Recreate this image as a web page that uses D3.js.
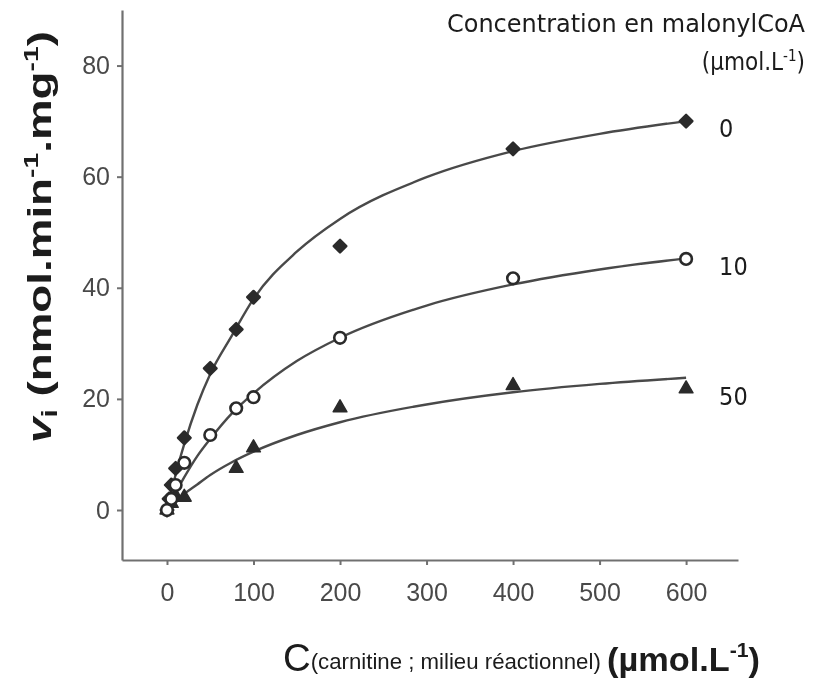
<!DOCTYPE html>
<html>
<head>
<meta charset="utf-8">
<script src="https://cdn.jsdelivr.net/npm/d3@7"></script>
<style>
  body { margin: 0; background: #fff; }
  svg { display: block; }
</style>
</head>
<body>
<svg id="chart" width="816" height="679"></svg>
<script>
// malonylCoA concentrations (umol/L) for the three series
var seriesNames = ['0', '10', '50'];

// measured points: carnitine concentration (x) and vi (y)
var conc0 = [0, 2.5, 5, 10, 20, 50, 80, 100, 200, 400, 600];
var vi0 = [0, 2, 4.5, 7.5, 13, 25.5, 32.5, 38.3, 47.5, 65, 70];

var conc10 = [0, 5, 10, 20, 50, 80, 100, 200, 400, 600];
var vi10 = [0, 2, 4.5, 8.5, 13.5, 18.3, 20.3, 31, 41.7, 45.2];

var conc50 = [0, 5, 10, 20, 80, 100, 200, 400, 600];
var vi50 = [0, 1.2, 2.5, 2.3, 7.5, 11.2, 18.4, 22.4, 21.8];

// fitted curves
var curveConc = [0, 5, 10, 20, 35, 50, 75, 100, 150, 200, 300, 400, 500, 600];
var curveVi0 = [0, 3.3, 6.4, 11.9, 18.9, 24.5, 31.4, 38, 46.5, 52.4, 59.9, 64.6, 67.7, 70];
var curveVi10 = [0, 1.6, 3.1, 5.9, 9.7, 12.8, 17.4, 21, 26.8, 31, 36.8, 40.6, 43.3, 45.3];
var curveVi50 = [0, 0.8, 1.5, 2.9, 4.6, 6.3, 8.6, 10.5, 13.5, 15.8, 19, 21.2, 22.7, 23.8];

var xTicks = [0, 100, 200, 300, 400, 500, 600];
var yTicks = [0, 20, 40, 60, 80];

var svg = d3.select('#chart');
var ink = '#2b2b2b';

var defs = svg.append('defs');
defs.append('filter').attr('id', 'scan')
  .append('feGaussianBlur').attr('stdDeviation', 0.55);

var x = d3.scaleLinear().domain([-52, 660]).range([122, 738]);
var y = d3.scaleLinear().domain([-9, 90]).range([560, 10]);

var g = svg.append('g').attr('filter', 'url(#scan)');

// axes
var yAxis = g.append('g')
  .attr('transform', 'translate(' + x(-52) + ',0)')
  .call(d3.axisLeft(y).tickValues(yTicks).tickSize(5).tickSizeOuter(0).tickPadding(7));

var xAxis = g.append('g')
  .attr('transform', 'translate(0,' + y(-9) + ')')
  .call(d3.axisBottom(x).tickValues(xTicks).tickSize(5).tickSizeOuter(0).tickPadding(18));

[yAxis, xAxis].forEach(function(a) {
  a.select('.domain').attr('stroke', '#707070').attr('stroke-width', 2.2);
  a.selectAll('.tick line').attr('stroke', '#707070').attr('stroke-width', 2);
  a.selectAll('.tick text')
    .attr('fill', '#4a4a4a')
    .attr('font-family', 'Liberation Sans, Arial, sans-serif')
    .attr('font-size', 25);
});

// fitted curves
var line = d3.line()
  .x(function(d) { return x(d[0]); })
  .y(function(d) { return y(d[1]); })
  .curve(d3.curveMonotoneX);

var curves = [curveVi0, curveVi10, curveVi50].map(function(vals) {
  return curveConc.map(function(c, i) { return [c, vals[i]]; });
});

g.append('g').attr('class', 'curves')
  .selectAll('path')
  .data(curves)
  .enter().append('path')
  .attr('d', line)
  .attr('fill', 'none')
  .attr('stroke', '#4a4a4a')
  .attr('stroke-width', 2.4);

// measured points
function pairs(cs, vs) {
  return cs.map(function(c, i) { return [c, vs[i]]; });
}

var pts = g.append('g').attr('class', 'points');

pts.selectAll('path.tri')
  .data(pairs(conc50, vi50))
  .enter().append('path')
  .attr('class', 'tri')
  .attr('d', d3.symbol().type(d3.symbolTriangle).size(82))
  .attr('transform', function(d) { return 'translate(' + x(d[0]) + ',' + y(d[1]) + ')'; })
  .attr('fill', ink)
  .attr('stroke', ink)
  .attr('stroke-width', 1.5)
  .attr('stroke-linejoin', 'round');

pts.selectAll('path.dia')
  .data(pairs(conc0, vi0))
  .enter().append('path')
  .attr('class', 'dia')
  .attr('d', d3.symbol().type(d3.symbolSquare).size(80))
  .attr('transform', function(d) { return 'translate(' + x(d[0]) + ',' + y(d[1]) + ') rotate(45)'; })
  .attr('fill', ink)
  .attr('stroke', ink)
  .attr('stroke-width', 2.4)
  .attr('stroke-linejoin', 'round');

pts.selectAll('circle.open')
  .data(pairs(conc10, vi10))
  .enter().append('circle')
  .attr('class', 'open')
  .attr('cx', function(d) { return x(d[0]); })
  .attr('cy', function(d) { return y(d[1]); })
  .attr('r', 5.8)
  .attr('fill', '#fff')
  .attr('stroke', ink)
  .attr('stroke-width', 2.6);

// series labels, placed to the right of the last point of each curve
var lastVals = [vi0[vi0.length - 1], vi10[vi10.length - 1], vi50[vi50.length - 1]];
g.append('g').attr('class', 'series-labels')
  .selectAll('text')
  .data(seriesNames)
  .enter().append('text')
  .attr('x', x(600) + 33)
  .attr('y', function(d, i) { return y(lastVals[i]) + 16; })
  .attr('font-family', 'DejaVu Sans Condensed, DejaVu Sans, sans-serif')
  .attr('font-size', 25)
  .attr('fill', '#1a1a1a')
  .text(function(d) { return d; });

// legend title
var legend = g.append('g').attr('class', 'legend-title')
  .attr('font-family', 'DejaVu Sans Condensed, DejaVu Sans, sans-serif')
  .attr('fill', '#1a1a1a');

legend.append('text')
  .attr('x', 805).attr('y', 32)
  .attr('text-anchor', 'end')
  .attr('font-size', 24)
  .attr('textLength', 358).attr('lengthAdjust', 'spacingAndGlyphs')
  .text('Concentration en malonylCoA');

var lt = legend.append('text')
  .attr('x', 805).attr('y', 70)
  .attr('text-anchor', 'end')
  .attr('font-size', 24);
lt.append('tspan').text('(µmol.L');
lt.append('tspan').attr('dy', -9).attr('font-size', 15).text('-1');
lt.append('tspan').attr('dy', 9).text(')');

// y axis title
var yt = g.append('text')
  .attr('transform', 'translate(51,237) rotate(-90)')
  .attr('text-anchor', 'middle')
  .attr('font-family', 'Liberation Sans, Arial, sans-serif')
  .attr('font-weight', 'bold')
  .attr('font-size', 34)
  .attr('fill', '#1a1a1a')
  .attr('textLength', 412).attr('lengthAdjust', 'spacingAndGlyphs');
yt.append('tspan').attr('font-style', 'italic').text('v');
yt.append('tspan').attr('font-size', 22).attr('dy', 6).text('i');
yt.append('tspan').attr('dy', -6).text(' (nmol.min');
yt.append('tspan').attr('font-size', 21).attr('dy', -13).text('-1');
yt.append('tspan').attr('dy', 13).text('.mg');
yt.append('tspan').attr('font-size', 21).attr('dy', -13).text('-1');
yt.append('tspan').attr('dy', 13).text(')');

// x axis title
var xt = g.append('text')
  .attr('x', 283).attr('y', 671)
  .attr('font-family', 'Liberation Sans, Arial, sans-serif')
  .attr('fill', '#1a1a1a')
  .attr('textLength', 477).attr('lengthAdjust', 'spacingAndGlyphs');
xt.append('tspan').attr('font-size', 38).text('C');
xt.append('tspan').attr('font-size', 22).attr('dy', -2).text('(carnitine ; milieu réactionnel) ');
xt.append('tspan').attr('font-size', 34).attr('dy', 2).attr('font-weight', 'bold').text('(µmol.L');
xt.append('tspan').attr('font-size', 21).attr('dy', -14).attr('font-weight', 'bold').text('-1');
xt.append('tspan').attr('font-size', 34).attr('dy', 14).attr('font-weight', 'bold').text(')');
</script>
</body>
</html>
